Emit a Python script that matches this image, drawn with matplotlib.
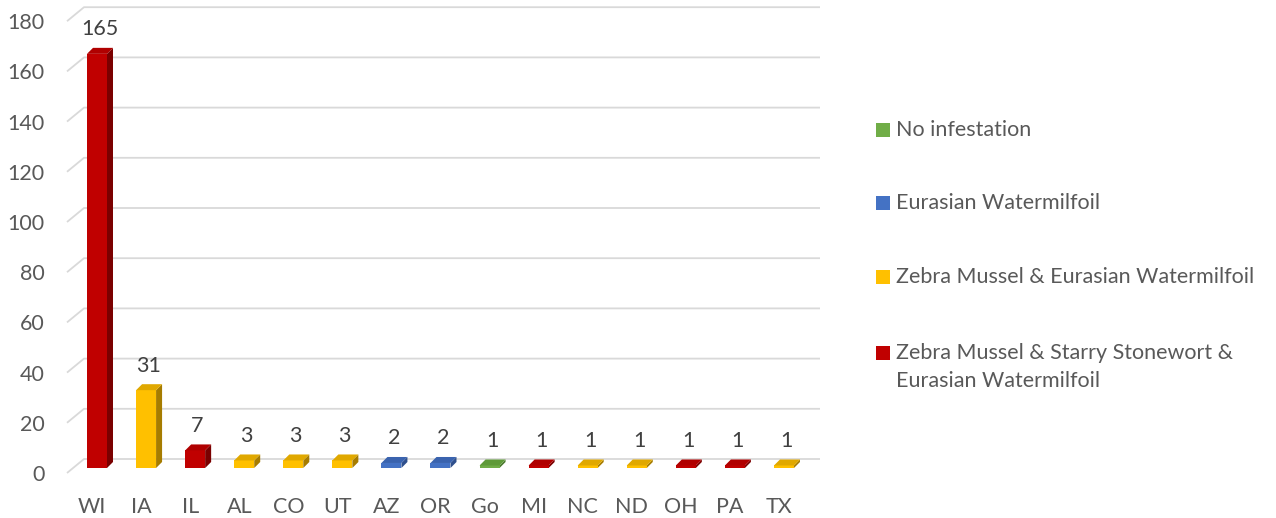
import matplotlib
matplotlib.use("Agg")
import matplotlib.pyplot as plt
from matplotlib.patches import Polygon, Rectangle

plt.rcParams['font.family'] = ['Lato', 'DejaVu Sans']

states = ['WI', 'IA', 'IL', 'AL', 'CO', 'UT', 'AZ', 'OR', 'Go', 'MI', 'NC', 'ND', 'OH', 'PA', 'TX']
counts = [165, 31, 7, 3, 3, 3, 2, 2, 1, 1, 1, 1, 1, 1, 1]
kind = ['zse', 'ze', 'zse', 'ze', 'ze', 'ze', 'e', 'e', 'n', 'zse', 'ze', 'ze', 'zse', 'zse', 'ze']

kinds = ['n', 'e', 'ze', 'zse']
kind_names = ['No infestation',
              'Eurasian Watermilfoil',
              'Zebra Mussel & Eurasian Watermilfoil',
              'Zebra Mussel & Starry Stonewort &\nEurasian Watermilfoil']
yticks = list(range(0, 181, 20))

# front / top / side shades per series
front = {'n': '#70AD47', 'e': '#4472C4', 'ze': '#FFC000', 'zse': '#C00000'}
top = {'n': '#5E9A38', 'e': '#3A63AE', 'ze': '#E0A800', 'zse': '#B00000'}
side = {'n': '#4B7A2E', 'e': '#2E4F8C', 'ze': '#A67C00', 'zse': '#7A0000'}

txt = '#595959'
grid = '#D9D9D9'
fs = 15.5

W, H = 1276, 518
fig = plt.figure(figsize=(W / 100, H / 100), dpi=100)
ax = fig.add_axes([60 / W, (H - 480) / H, 770 / W, 480 / H])

# pixel scale: x px = 97 + 49.07*x ; y px = 468 - 2.51*y
ax.set_xlim((60 - 97) / 49.07, (830 - 97) / 49.07)
ax.set_ylim(-12 / 2.51, 468 / 2.51)

bw = 20 / 49.07      # front face width
dx = 6 / 49.07       # depth offset x
dy = 6 / 2.51        # depth offset y
back = 9 / 2.51      # back wall offset
flr = 5 / 2.51       # front floor offset
x_diag0 = (67 - 97) / 49.07
x_diag1 = (84 - 97) / 49.07
x_end = (820 - 97) / 49.07

for t in yticks:
    ax.plot([x_diag0, x_diag1, x_end], [t - flr, t + back, t + back],
            color=grid, lw=1.3, zorder=0, solid_capstyle='butt')

xs = list(range(len(states)))
for k in kinds:
    idx = [i for i in xs if kind[i] == k]
    ax.bar([xs[i] for i in idx], [counts[i] for i in idx], width=bw,
           color=front[k], zorder=3)

for i in xs:
    v = counts[i]
    k = kind[i]
    x0, x1 = i - bw / 2, i + bw / 2
    ax.add_patch(Polygon([(x1, 0), (x1 + dx, dy), (x1 + dx, v + dy), (x1, v)],
                         closed=True, fc=side[k], ec='none', zorder=2))
    ax.add_patch(Polygon([(x0, v), (x0 + dx, v + dy), (x1 + dx, v + dy), (x1, v)],
                         closed=True, fc=top[k], ec='none', zorder=4))
    ax.text(i + 0.05, v + 9.8, str(v), ha='center', va='center',
            fontsize=fs, color='#404040', zorder=5)

ax.set_yticks([t - flr for t in yticks])
ax.set_yticklabels([str(t) for t in yticks])
ax.set_xticks([i - 0.1 for i in xs])
ax.set_xticklabels(states)
ax.tick_params(axis='both', length=0, labelsize=fs, labelcolor=txt)
ax.tick_params(axis='y', pad=11)
ax.tick_params(axis='x', pad=12)
for s in ax.spines.values():
    s.set_visible(False)

# legend, drawn by hand so the two-line entry keeps its marker on line one
leg_y = [130, 203, 277, 353]
for k, name, yp in zip(kinds, kind_names, leg_y):
    fig.add_artist(Rectangle((876 / W, 1 - (yp + 7) / H), 14 / W, 14 / H,
                             transform=fig.transFigure, fc=front[k], ec='none'))
    for j, line in enumerate(name.split('\n')):
        fig.text(896 / W, 1 - (yp + 28 * j) / H, line, ha='left', va='center',
                 fontsize=fs, color=txt)

fig.savefig('out.png', dpi=100)
